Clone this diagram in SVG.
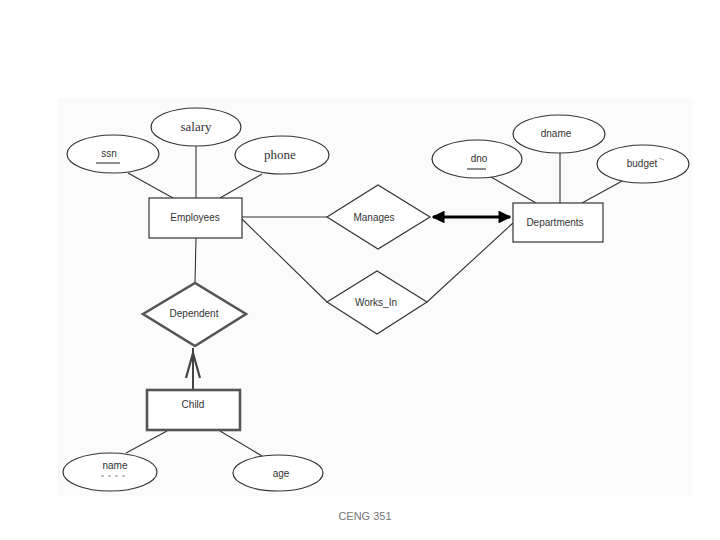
<svg xmlns="http://www.w3.org/2000/svg" width="720" height="540" viewBox="0 0 720 540">
<style>
.shape{fill:#fff;stroke:#333;stroke-width:1.2}
.weak{fill:#fff;stroke:#555;stroke-width:2.6}
.lbl{font-family:"Liberation Sans",Arial,sans-serif;font-size:10px;fill:#333;text-anchor:middle}
.ser{font-family:"Liberation Serif","Times New Roman",serif;font-size:13px;fill:#333;text-anchor:middle}
.ln{stroke:#333;stroke-width:1.1;fill:none}
</style>
<defs>
<marker id="ah" viewBox="0 0 10 10" refX="9" refY="5" markerWidth="4" markerHeight="4" orient="auto-start-reverse">
<path d="M0,0 L10,5 L0,10 z" fill="#000"/>
</marker>
</defs>
<rect width="720" height="540" fill="#fff"/>
<rect x="58" y="98" width="634" height="398" fill="#fbfbfb"/>
<g id="connectors">
<line class="ln" x1="128" y1="173" x2="173" y2="198"/>
<line class="ln" x1="196" y1="146" x2="196" y2="198"/>
<line class="ln" x1="262" y1="174" x2="220" y2="198"/>
<line class="ln" x1="491" y1="177" x2="536" y2="203"/>
<line class="ln" x1="560" y1="153" x2="560" y2="203"/>
<line class="ln" x1="624" y1="180" x2="582" y2="203"/>
<line class="ln" x1="242" y1="217" x2="327" y2="217" stroke-width="1.6"/>
<line x1="433" y1="217" x2="510" y2="217" stroke="#000" stroke-width="3.2" marker-start="url(#ah)" marker-end="url(#ah)"/>
<line class="ln" x1="242" y1="219" x2="327" y2="302"/>
<line class="ln" x1="427" y1="302" x2="513" y2="223"/>
<line class="ln" x1="196" y1="238" x2="195" y2="283"/>
<line x1="193" y1="390" x2="193" y2="348" stroke="#444" stroke-width="2"/>
<polyline points="186,378 193,353 200,378" fill="none" stroke="#444" stroke-width="2.2"/>
<line class="ln" x1="167" y1="431" x2="126" y2="453"/>
<line class="ln" x1="220" y1="431" x2="262" y2="456"/>
</g>
<g id="salary"><ellipse class="shape" cx="196" cy="127" rx="45" ry="19"/><text class="ser" x="196" y="131">salary</text></g>
<g id="ssn"><ellipse class="shape" cx="113" cy="154" rx="46" ry="19"/><text class="lbl" x="109" y="157">ssn</text><line class="ln" x1="96" y1="163" x2="120" y2="163"/></g>
<g id="phone"><ellipse class="shape" cx="282" cy="155" rx="47" ry="19"/><text class="ser" x="280" y="159">phone</text></g>
<g id="employees"><rect class="shape" x="149" y="198" width="93" height="40"/><text class="lbl" x="195" y="221">Employees</text></g>
<g id="manages"><polygon class="shape" points="327,217 378,185 430,217 378,249"/><text class="lbl" x="374" y="221">Manages</text></g>
<g id="works_in"><polygon class="shape" points="327,302 377,271 427,302 377,334"/><text class="lbl" x="376" y="306">Works_In</text></g>
<g id="departments"><rect class="shape" x="513" y="203" width="90" height="39"/><text class="lbl" x="555" y="226">Departments</text></g>
<g id="dno"><ellipse class="shape" cx="477" cy="159" rx="45" ry="19"/><text class="lbl" x="479" y="162" font-size="12">dno</text><line class="ln" x1="467" y1="169" x2="486" y2="169"/></g>
<g id="dname"><ellipse class="shape" cx="559" cy="134" rx="46" ry="19"/><text class="lbl" x="556" y="137">dname</text></g>
<g id="budget"><ellipse class="shape" cx="643" cy="164" rx="46" ry="19"/><text class="lbl" x="642" y="167">budget</text><path d="M659,158 L664,160" stroke="#999" stroke-width="0.8"/></g>
<g id="dependent"><polygon class="weak" points="143,314 195,283 246,314 195,346"/><text class="lbl" x="194" y="317">Dependent</text></g>
<g id="child"><rect class="weak" x="147" y="390" width="93" height="40"/><text class="lbl" x="193" y="408">Child</text></g>
<g id="name"><ellipse class="shape" cx="110" cy="472" rx="47" ry="19"/><text class="lbl" x="115" y="469">name</text><line x1="101" y1="476" x2="125" y2="476" stroke="#888" stroke-width="1" stroke-dasharray="3,4"/></g>
<g id="age"><ellipse class="shape" cx="278" cy="473" rx="45" ry="18"/><text class="lbl" x="281" y="477">age</text></g>
<text x="365" y="520" font-family="'Liberation Sans',Arial,sans-serif" font-size="11" fill="#777" text-anchor="middle">CENG 351</text>
</svg>
